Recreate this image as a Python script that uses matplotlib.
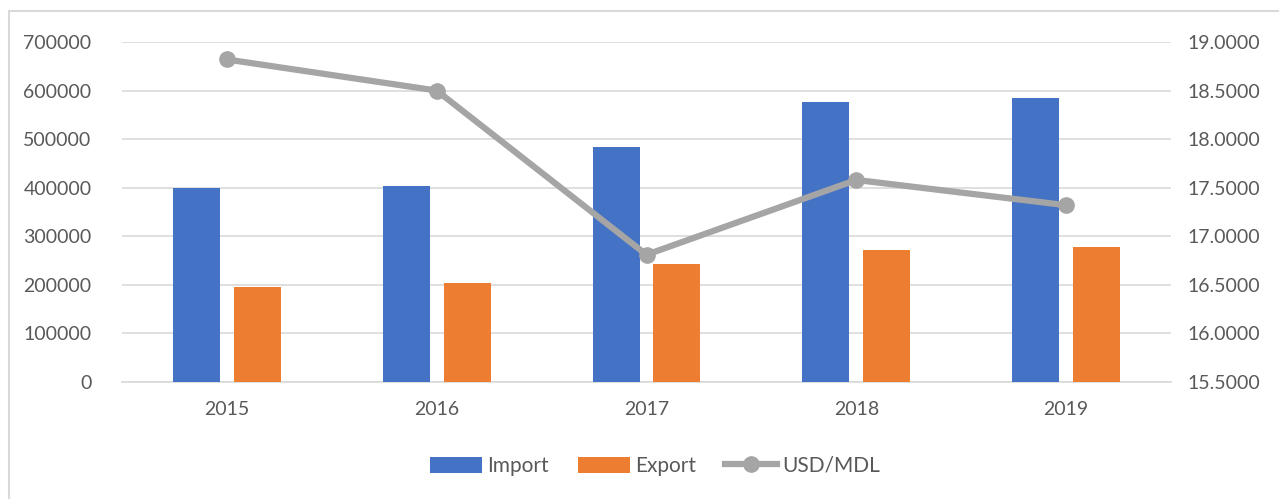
import matplotlib.pyplot as plt
import numpy as np
from matplotlib.patches import Rectangle

years = ['2015', '2016', '2017', '2018', '2019']
imports = [399000, 403000, 484000, 577000, 584000]
exports = [196000, 204000, 243000, 271000, 278000]
usd_mdl = [18.82, 18.50, 16.81, 17.58, 17.32]

plt.rcParams['font.family'] = ['Lato', 'DejaVu Sans']
text_color = '#595959'
grid_color = '#d9d9d9'

fig = plt.figure(figsize=(12.79, 4.99), dpi=100)
fig.patches.append(Rectangle((9 / 1279, -0.1), 1.2, (499 - 11) / 499 + 0.1,
                             transform=fig.transFigure, fill=False,
                             edgecolor='#d9d9d9', linewidth=1.5))

ax = fig.add_axes([122 / 1279, 1 - 382 / 499, (1171 - 122) / 1279, 340 / 499])
x = np.arange(len(years))
width = 0.224
ax.bar(x - 0.145, imports, width, color='#4472c4', label='Import', zorder=3)
ax.bar(x + 0.145, exports, width, color='#ed7d31', label='Export', zorder=3)

ax.set_xlim(-0.5, len(years) - 0.5)
ax.set_ylim(0, 700000)
ax.set_yticks(np.arange(0, 700001, 100000))
ax.set_yticklabels([str(v) for v in range(0, 700001, 100000)])
ax.set_xticks(x)
ax.set_xticklabels(years)
ax.grid(axis='y', color=grid_color, linewidth=1.2, zorder=0)
for s in ['top', 'left', 'right']:
    ax.spines[s].set_visible(False)
ax.spines['bottom'].set_color(grid_color)
ax.spines['bottom'].set_linewidth(1.2)
ax.tick_params(length=0, labelsize=14, colors=text_color)
ax.tick_params(axis='y', pad=22)
ax.tick_params(axis='x', pad=14)

ax2 = ax.twinx()
ax2.plot(x, usd_mdl, color='#a5a5a5', linewidth=4.5, marker='o',
         markersize=11, label='USD/MDL', zorder=4)
ax2.set_ylim(15.5, 19.0)
ticks = np.arange(15.5, 19.01, 0.5)
ax2.set_yticks(ticks)
ax2.set_yticklabels([f'{t:.4f}' for t in ticks])
for s in ['top', 'left', 'right', 'bottom']:
    ax2.spines[s].set_visible(False)
ax2.tick_params(length=0, labelsize=14, colors=text_color, pad=12)

h1, l1 = ax.get_legend_handles_labels()
h2, l2 = ax2.get_legend_handles_labels()
fig.legend(h1 + h2, l1 + l2, loc='center', bbox_to_anchor=(655 / 1279, 1 - 466 / 499),
           ncol=3, frameon=False, fontsize=15, labelcolor=text_color,
           handlelength=2.5, handleheight=0.8, handletextpad=0.25, columnspacing=1.4)

fig.savefig('out.png', dpi=100)
